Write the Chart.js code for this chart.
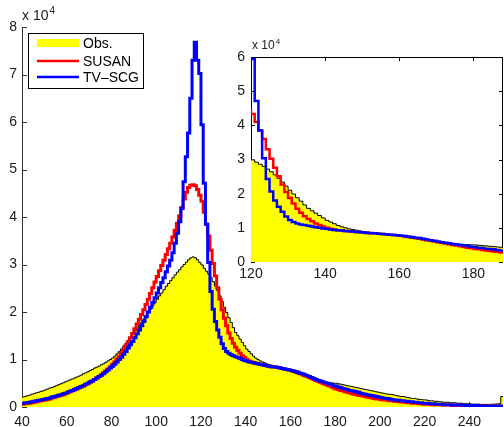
<!DOCTYPE html>
<html>
<head>
<meta charset="utf-8">
<script src="https://cdn.jsdelivr.net/npm/chart.js@4.4.0/dist/chart.umd.min.js"></script>
<style>
  html, body { margin: 0; padding: 0; background: #fff; }
  #wrap { position: relative; width: 504px; height: 427px; overflow: hidden; }
  #main { position: absolute; left: 0; top: 0; }
  #inset { position: absolute; left: 222px; top: 38px; }
</style>
</head>
<body>
<div id="wrap">
  <canvas id="main" width="504" height="427"></canvas>
  <canvas id="inset" width="282" height="247"></canvas>
</div>
<script>
// histogram counts (x 10^4) for grey levels 40..255, one value per bin
const binStart = 40;

const obsCounts = [
  0.21,0.22,0.24,0.25,0.27,0.28,0.30,0.31,0.33,0.34,
  0.36,0.38,0.40,0.41,0.43,0.45,0.47,0.49,0.51,0.53,
  0.55,0.57,0.59,0.61,0.63,0.65,0.67,0.70,0.72,0.74,
  0.77,0.79,0.82,0.84,0.86,0.89,0.91,0.94,0.97,1.00,
  1.03,1.07,1.12,1.17,1.22,1.28,1.34,1.40,1.46,1.53,
  1.60,1.66,1.72,1.78,1.85,1.92,1.99,2.06,2.13,2.20,
  2.27,2.34,2.40,2.47,2.54,2.60,2.66,2.72,2.78,2.84,
  2.89,2.95,3.00,3.05,3.10,3.14,3.16,3.14,3.10,3.04,
  2.99,2.92,2.86,2.80,2.72,2.64,2.55,2.45,2.34,2.22,
  2.10,1.99,1.88,1.78,1.67,1.57,1.50,1.43,1.36,1.29,
  1.22,1.17,1.12,1.07,1.03,1.00,0.97,0.95,0.93,0.91,
  0.89,0.88,0.86,0.85,0.84,0.83,0.81,0.80,0.78,0.77,
  0.75,0.73,0.71,0.69,0.68,0.66,0.65,0.63,0.62,0.60,
  0.59,0.58,0.57,0.55,0.54,0.53,0.52,0.51,0.51,0.50,
  0.50,0.49,0.48,0.47,0.46,0.45,0.44,0.43,0.42,0.41,
  0.40,0.39,0.38,0.37,0.36,0.35,0.34,0.33,0.32,0.31,
  0.30,0.29,0.28,0.27,0.27,0.26,0.25,0.24,0.23,0.22,
  0.22,0.21,0.20,0.19,0.18,0.18,0.17,0.16,0.16,0.15,
  0.15,0.14,0.13,0.13,0.12,0.12,0.11,0.11,0.10,0.10,
  0.10,0.09,0.09,0.09,0.08,0.08,0.08,0.07,0.07,0.07,
  0.065,0.06,0.06,0.06,0.06,0.055,0.055,0.055,0.055,0.055,
  0.06,0.06,0.065,0.07,0.22,0.22
];

const susanCounts = [
  0.06,0.07,0.08,0.08,0.09,0.10,0.11,0.12,0.13,0.14,
  0.15,0.16,0.17,0.19,0.20,0.22,0.23,0.25,0.26,0.28,
  0.30,0.32,0.34,0.36,0.38,0.40,0.42,0.44,0.47,0.49,
  0.52,0.55,0.58,0.61,0.64,0.68,0.72,0.76,0.80,0.85,
  0.90,0.95,1.01,1.07,1.14,1.21,1.29,1.37,1.46,1.55,
  1.65,1.75,1.85,1.95,2.05,2.16,2.27,2.39,2.51,2.63,
  2.75,2.87,2.98,3.09,3.21,3.33,3.45,3.58,3.72,3.87,
  4.02,4.20,4.38,4.52,4.62,4.67,4.68,4.66,4.58,4.46,
  4.33,4.10,3.85,3.60,3.30,3.02,2.76,2.51,2.27,2.05,
  1.87,1.71,1.56,1.44,1.34,1.26,1.19,1.13,1.08,1.04,
  1.00,0.97,0.95,0.93,0.92,0.91,0.90,0.89,0.88,0.87,
  0.86,0.85,0.85,0.84,0.83,0.82,0.81,0.80,0.79,0.78,
  0.77,0.75,0.74,0.72,0.70,0.68,0.66,0.64,0.62,0.60,
  0.58,0.56,0.54,0.52,0.50,0.48,0.46,0.44,0.42,0.40,
  0.38,0.37,0.35,0.34,0.32,0.31,0.30,0.28,0.27,0.26,
  0.25,0.24,0.23,0.22,0.21,0.20,0.19,0.18,0.17,0.17,
  0.16,0.15,0.15,0.14,0.13,0.13,0.12,0.12,0.11,0.11,
  0.10,0.10,0.09,0.09,0.08,0.08,0.08,0.07,0.07,0.06,
  0.06,0.06,0.06,0.05,0.05,0.05,0.05,0.04,0.04,0.04,
  0.04,0.04,0.03,0.03,0.03,0.03,0.03,0.02,0.02,0.02,
  0.02,0.02,0.02,0.02,0.02,0.02,0.02,0.02,0.02,0.02,
  0.02,0.02,0.02,0.02,0.02,0.02
];

const tvscgCounts = [
  0.08,0.09,0.09,0.10,0.11,0.12,0.13,0.14,0.15,0.16,
  0.17,0.18,0.19,0.21,0.22,0.23,0.25,0.26,0.28,0.29,
  0.31,0.33,0.35,0.37,0.39,0.41,0.43,0.45,0.48,0.50,
  0.53,0.55,0.58,0.61,0.64,0.67,0.70,0.74,0.78,0.82,
  0.86,0.90,0.95,1.00,1.05,1.11,1.17,1.24,1.31,1.38,
  1.46,1.54,1.62,1.71,1.80,1.90,2.00,2.10,2.20,2.30,
  2.40,2.51,2.62,2.72,2.85,2.97,3.09,3.25,3.45,3.66,
  3.90,4.18,4.74,5.27,5.77,6.50,7.30,7.68,7.30,7.02,
  5.94,4.71,3.85,3.04,2.43,2.06,1.80,1.62,1.47,1.33,
  1.23,1.17,1.13,1.10,1.08,1.06,1.04,1.02,1.00,0.98,
  0.97,0.95,0.94,0.93,0.92,0.91,0.90,0.89,0.88,0.87,
  0.86,0.85,0.84,0.84,0.83,0.82,0.81,0.80,0.79,0.78,
  0.77,0.76,0.74,0.73,0.71,0.70,0.68,0.66,0.64,0.62,
  0.60,0.58,0.56,0.55,0.53,0.51,0.50,0.48,0.47,0.45,
  0.44,0.42,0.41,0.39,0.38,0.37,0.35,0.34,0.33,0.32,
  0.31,0.29,0.28,0.27,0.26,0.25,0.24,0.23,0.22,0.21,
  0.20,0.19,0.18,0.18,0.17,0.16,0.15,0.15,0.14,0.13,
  0.13,0.12,0.12,0.11,0.11,0.10,0.10,0.09,0.09,0.08,
  0.08,0.08,0.07,0.07,0.07,0.06,0.06,0.06,0.05,0.05,
  0.05,0.05,0.04,0.04,0.04,0.04,0.04,0.03,0.03,0.03,
  0.03,0.03,0.03,0.03,0.02,0.02,0.02,0.02,0.02,0.02,
  0.02,0.02,0.02,0.02,0.02,0.02
];

const seriesNames = ["Obs.", "SUSAN", "TV\u2013SCG"];

const mainXTicks = [40, 60, 80, 100, 120, 140, 160, 180, 200, 220, 240];
const mainYTicks = [0, 1, 2, 3, 4, 5, 6, 7, 8];
const insetXTicks = [120, 140, 160, 180];
const insetYTicks = [0, 1, 2, 3, 4, 5, 6];

const bins = obsCounts.map((_, i) => binStart + i);
const toPoints = arr => arr.map((v, i) => ({ x: bins[i], y: v }));

Chart.defaults.font.family = "'Liberation Sans', Arial, Helvetica, sans-serif";
Chart.defaults.font.size = 14;
Chart.defaults.color = "#1a1a1a";

// each bin value is held from its grey level to the next one (stairs)
function makeDatasets(thick) {
  return [
    {
      label: seriesNames[0],
      data: toPoints(obsCounts),
      stepped: "before",
      borderColor: "#000",
      borderWidth: 1,
      backgroundColor: "#ffff00",
      fill: "origin",
      pointRadius: 0,
      order: 3
    },
    {
      label: seriesNames[1],
      data: toPoints(susanCounts),
      stepped: "before",
      borderColor: "#ff0000",
      borderWidth: thick,
      fill: false,
      pointRadius: 0,
      order: 2
    },
    {
      label: seriesNames[2],
      data: toPoints(tvscgCounts),
      stepped: "before",
      borderColor: "#0000ff",
      borderWidth: thick,
      fill: false,
      pointRadius: 0,
      order: 1
    }
  ];
}

// "x 10^4" multiplier above the y axis
function drawExponent(ctx, x, y, size) {
  ctx.save();
  ctx.fillStyle = "#1a1a1a";
  ctx.textBaseline = "alphabetic";
  ctx.textAlign = "left";
  ctx.font = size + "px 'Liberation Sans', Arial, sans-serif";
  ctx.fillText("x 10", x, y);
  const w = ctx.measureText("x 10").width;
  ctx.font = Math.round(size * 0.68) + "px 'Liberation Sans', Arial, sans-serif";
  ctx.fillText("4", x + w + 1, y - size * 0.45);
  ctx.restore();
}

const mainAxes = {
  id: "mainAxes",
  beforeDatasetsDraw(chart) {
    const { ctx, chartArea: a, scales: { x, y } } = chart;
    ctx.save();
    ctx.strokeStyle = "#333";
    ctx.lineWidth = 1;
    ctx.beginPath();
    ctx.moveTo(a.left + 0.5, a.top);
    ctx.lineTo(a.left + 0.5, a.bottom);
    ctx.moveTo(a.left, a.bottom - 0.5);
    ctx.lineTo(a.right, a.bottom - 0.5);
    mainYTicks.forEach(v => {
      const py = Math.round(y.getPixelForValue(v)) + 0.5;
      ctx.moveTo(a.left, py);
      ctx.lineTo(a.left + 5, py);
    });
    mainXTicks.forEach(v => {
      const px = Math.round(x.getPixelForValue(v)) + 0.5;
      ctx.moveTo(px, a.bottom);
      ctx.lineTo(px, a.bottom - 5);
    });
    ctx.stroke();
    ctx.restore();
  },
  afterDraw(chart) {
    const { ctx } = chart;
    drawExponent(ctx, 22, 20, 14);

    // legend box, upper left
    const box = { x: 28.5, y: 33.5, w: 115, h: 55 };
    ctx.save();
    ctx.fillStyle = "#fff";
    ctx.fillRect(box.x, box.y, box.w, box.h);
    ctx.strokeStyle = "#000";
    ctx.lineWidth = 1;
    ctx.strokeRect(box.x, box.y, box.w, box.h);
    const rows = [43, 61, 77];
    const ds = chart.data.datasets;
    ds.forEach((d, i) => {
      const ry = rows[i];
      if (i === 0) {
        ctx.fillStyle = d.backgroundColor;
        ctx.fillRect(37, ry - 4, 42, 8);
      } else {
        ctx.strokeStyle = d.borderColor;
        ctx.lineWidth = 2.5;
        ctx.beginPath();
        ctx.moveTo(37, ry);
        ctx.lineTo(79, ry);
        ctx.stroke();
      }
      ctx.fillStyle = "#000";
      ctx.font = "14px 'Liberation Sans', Arial, sans-serif";
      ctx.textBaseline = "middle";
      ctx.textAlign = "left";
      ctx.fillText(d.label, 83, ry + 1);
    });
    ctx.restore();
  }
};

const insetAxes = {
  id: "insetAxes",
  beforeDatasetsDraw(chart) {
    const { ctx, chartArea: a, scales: { x, y } } = chart;
    ctx.save();
    ctx.fillStyle = "#fff";
    ctx.fillRect(a.left, a.top, a.right - a.left, a.bottom - a.top);
    ctx.strokeStyle = "#000";
    ctx.lineWidth = 1;
    ctx.strokeRect(a.left + 0.5, a.top + 0.5, a.right - a.left - 1, a.bottom - a.top - 1);
    ctx.beginPath();
    insetYTicks.forEach(v => {
      const py = Math.round(y.getPixelForValue(v)) + 0.5;
      ctx.moveTo(a.left, py); ctx.lineTo(a.left + 4, py);
      ctx.moveTo(a.right, py); ctx.lineTo(a.right - 4, py);
    });
    insetXTicks.forEach(v => {
      const px = Math.round(x.getPixelForValue(v)) + 0.5;
      ctx.moveTo(px, a.top); ctx.lineTo(px, a.top + 4);
      ctx.moveTo(px, a.bottom); ctx.lineTo(px, a.bottom - 4);
    });
    ctx.stroke();
    ctx.restore();
  },
  afterDraw(chart) {
    const a = chart.chartArea;
    drawExponent(chart.ctx, a.left + 1, a.top - 8, 12);
  }
};

new Chart(document.getElementById("main"), {
  type: "line",
  data: { datasets: makeDatasets(3) },
  options: {
    responsive: false,
    animation: false,
    devicePixelRatio: 1,
    layout: { padding: { top: 27, right: 1, left: 0, bottom: 0 } },
    plugins: { legend: { display: false }, tooltip: { enabled: false } },
    scales: {
      x: {
        type: "linear",
        min: 40,
        max: 255,
        grid: { display: false, drawTicks: false },
        border: { display: false },
        afterFit: s => { s.height = 20; },
        afterBuildTicks: s => { s.ticks = mainXTicks.map(v => ({ value: v })); },
        ticks: { padding: 7, maxRotation: 0, autoSkip: false }
      },
      y: {
        min: 0,
        max: 8,
        grid: { display: false, drawTicks: false },
        border: { display: false },
        afterFit: s => { s.width = 22; },
        afterBuildTicks: s => { s.ticks = mainYTicks.map(v => ({ value: v })); },
        ticks: { padding: 5 }
      }
    }
  },
  plugins: [mainAxes]
});

new Chart(document.getElementById("inset"), {
  type: "line",
  data: { datasets: makeDatasets(2.5) },
  options: {
    responsive: false,
    animation: false,
    devicePixelRatio: 1,
    layout: { padding: { top: 19, right: 1, left: 0, bottom: 0 } },
    plugins: { legend: { display: false }, tooltip: { enabled: false } },
    scales: {
      x: {
        type: "linear",
        min: 120,
        max: 188,
        grid: { display: false, drawTicks: false },
        border: { display: false },
        afterFit: s => { s.height = 23; },
        afterBuildTicks: s => { s.ticks = insetXTicks.map(v => ({ value: v })); },
        ticks: { padding: 4, maxRotation: 0, autoSkip: false }
      },
      y: {
        min: 0,
        max: 6,
        grid: { display: false, drawTicks: false },
        border: { display: false },
        afterFit: s => { s.width = 29; },
        afterBuildTicks: s => { s.ticks = insetYTicks.map(v => ({ value: v })); },
        ticks: { padding: 6 }
      }
    }
  },
  plugins: [insetAxes]
});
</script>
</body>
</html>
